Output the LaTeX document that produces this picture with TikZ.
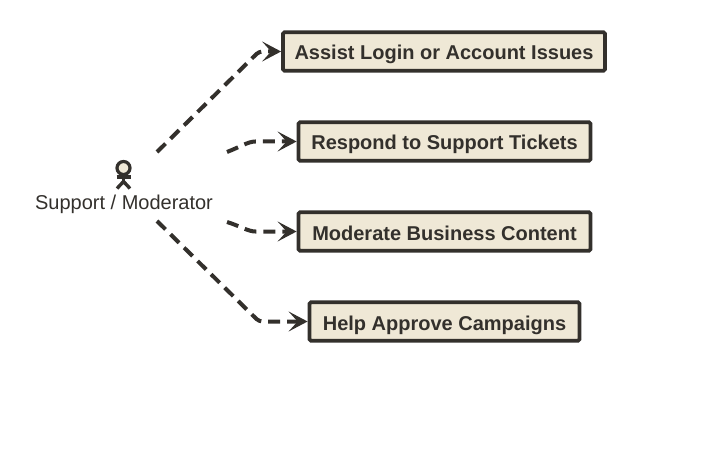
\documentclass[tikz,border=0pt]{standalone}
\usepackage{fontspec}
\setmainfont{Liberation Sans}
\usepackage{xcolor}
\usetikzlibrary{arrows.meta, positioning}
\definecolor{inkcol}{HTML}{33302C}
\definecolor{boxcol}{HTML}{EFE8D6}

\begin{document}
\begin{tikzpicture}[x=1pt, y=-1pt,
    box/.style={rectangle, draw=inkcol, line width=3.8pt, fill=boxcol, text=inkcol, font=\bfseries\fontsize{20}{24}\selectfont, rounded corners=1.5pt, minimum height=38.5pt, inner sep=0pt, text height=17pt, text depth=0pt},
    arrow/.style={draw=inkcol, line width=4pt, dash pattern=on 12pt off 7pt, rounded corners=3.5pt, -{Stealth[length=19pt, width=20pt, inset=9pt, line width=2pt]}},
    limb/.style={draw=inkcol, line width=3.4pt}]

    \useasboundingbox (0,0) rectangle (725,473);

    % use cases
    \node[box, minimum width=322pt] (login) at (444,51.5) {Assist Login or Account Issues};
    \node[box, minimum width=292pt] (tickets) at (444.5,141.5) {Respond to Support Tickets};
    \node[box, minimum width=292pt] (content) at (444.5,231.5) {Moderate Business Content};
    \node[box, minimum width=270pt] (campaigns) at (444.5,321.5) {Help Approve Campaigns};

    % actor
    \node[circle, draw=inkcol, line width=3.2pt, fill=boxcol, minimum size=13pt, inner sep=0pt] (head) at (123.5,168) {};
    \coordinate (hip) at (123.5,181.5);
    \coordinate (armL) at (116.5,177);
    \coordinate (armR) at (130.5,177);
    \coordinate (footL) at (117,188.5);
    \coordinate (footR) at (130,188.5);
    \draw[limb] (head) -- (hip);
    \draw[limb] (armL) -- (armR);
    \draw[limb] (footL) -- (hip) -- (footR);
    \node[text=inkcol, font=\fontsize{20}{24}\selectfont, text height=14pt, text depth=4pt] (support) at (124,204.5) {Support / Moderator};

    % free ends near the actor
    \coordinate (startA) at (157,152);
    \coordinate (startB) at (227,152);
    \coordinate (startC) at (227,222);
    \coordinate (startD) at (157,221);
    \coordinate (bendA) at (259,51.5);
    \coordinate (bendB) at (259,141.5);
    \coordinate (bendC) at (259,231.5);
    \coordinate (bendD) at (259,321.5);

    \draw[arrow] (startA) -- (bendA) -- (login.west);
    \draw[arrow] (startB) .. controls (240,147) and (248,141.5) .. (bendB) -- (tickets.west);
    \draw[arrow] (startC) .. controls (240,226) and (248,231.5) .. (bendC) -- (content.west);
    \draw[arrow] (startD) -- (bendD) -- (campaigns.west);
\end{tikzpicture}
\end{document}
